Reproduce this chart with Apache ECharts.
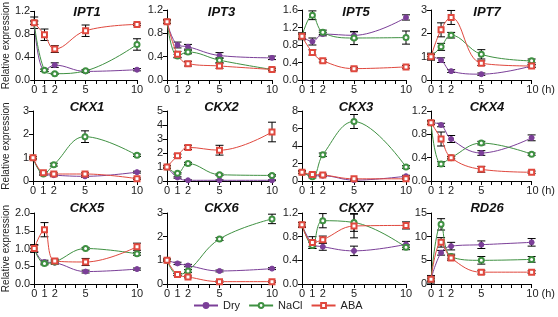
<!DOCTYPE html>
<html>
<head>
<meta charset="utf-8">
<script src="https://cdn.jsdelivr.net/npm/echarts@6/dist/echarts.min.js"></script>
<style>
  html, body { margin: 0; padding: 0; background: #fff; }
  #chart { width: 558px; height: 317px; }
</style>
</head>
<body>
<div id="chart"></div>
<script>
// sampling times (h) and the labelled ticks
const hours = [0, 1, 2, 5, 10];
const tickHours = [0, 1, 2, 5, 10];
const genes = ['IPT1', 'IPT3', 'IPT5', 'IPT7', 'CKX1', 'CKX2', 'CKX3', 'CKX4', 'CKX5', 'CKX6', 'CKX7', 'RD26'];
const yMax = [1.2, 1.2, 1.6, 3, 3, 5, 8, 1.2, 2.0, 3, 1.2, 15];
const yStep = [0.4, 0.4, 0.4, 1, 1, 1, 2, 0.4, 0.5, 1, 0.4, 5];
const yDecimals = [1, 1, 1, 0, 0, 0, 0, 1, 1, 0, 1, 0];

// mean relative expression per gene, at the times in `hours`
const dryMean = [
    [1.0, 0.17, 0.26, 0.15, 0.18],
    [1.0, 0.60, 0.57, 0.42, 0.38],
    [1.0, 0.88, 1.05, 1.02, 1.43],
    [1.0, 0.85, 0.38, 0.25, 0.60],
    [1.0, 0.30, 0.25, 0.20, 0.38],
    [1.0, 0.25, 0.05, 0.05, 0.05],
    [1.0, 0.60, 0.60, 0.10, 0.55],
    [1.0, 0.96, 0.72, 0.48, 0.74],
    [1.0, 0.62, 0.60, 0.35, 0.42],
    [1.0, 0.87, 0.78, 0.55, 0.65],
    [1.0, 0.68, 0.63, 0.56, 0.67],
    [1.0, 6.6, 8.0, 8.3, 8.8]
];
const naclMean = [
    [1.0, 0.17, 0.11, 0.16, 0.62],
    [1.0, 0.41, 0.48, 0.34, 0.18],
    [1.0, 1.48, 1.09, 0.96, 0.97],
    [1.0, 1.42, 1.92, 1.10, 0.82],
    [1.0, 0.30, 0.70, 1.90, 1.10],
    [1.0, 0.55, 1.25, 0.45, 0.40],
    [1.0, 0.50, 3.00, 6.80, 1.60],
    [1.0, 0.29, 0.40, 0.65, 0.46],
    [1.0, 0.58, 0.62, 1.00, 0.85],
    [1.0, 0.40, 0.55, 1.90, 2.75],
    [1.0, 0.65, 1.07, 1.04, 0.62],
    [1.0, 12.6, 5.8, 5.0, 5.2]
];
const abaMean = [
    [1.0, 0.79, 0.54, 0.86, 0.97],
    [1.0, 0.44, 0.28, 0.24, 0.18],
    [1.0, 0.63, 0.44, 0.26, 0.30],
    [1.0, 2.15, 2.68, 0.72, 0.60],
    [1.0, 0.35, 0.30, 0.30, 0.10],
    [1.0, 1.80, 2.40, 2.20, 3.50],
    [1.0, 0.75, 0.70, 0.25, 0.25],
    [1.0, 0.72, 0.40, 0.20, 0.15],
    [1.0, 1.53, 0.65, 0.62, 1.05],
    [1.0, 0.40, 0.30, 0.10, 0.10],
    [1.0, 0.70, 0.75, 0.98, 0.99],
    [1.0, 8.8, 5.5, 2.5, 2.5]
];

// error bar half-lengths
const dryErr = [
    [0.03, 0.02, 0.04, 0.02, 0.02],
    [0.03, 0.05, 0.04, 0.05, 0.03],
    [0.05, 0.08, 0.04, 0.08, 0.06],
    [0.10, 0.10, 0.06, 0.05, 0.05],
    [0.05, 0.05, 0.04, 0.04, 0.04],
    [0.10, 0.05, 0.03, 0.03, 0.03],
    [0.15, 0.10, 0.10, 0.05, 0.10],
    [0.03, 0.03, 0.06, 0.04, 0.05],
    [0.10, 0.05, 0.04, 0.04, 0.03],
    [0.05, 0.05, 0.05, 0.04, 0.04],
    [0.04, 0.05, 0.06, 0.08, 0.05],
    [0.20, 0.50, 0.80, 0.80, 0.80]
];
const naclErr = [
    [0.03, 0.02, 0.01, 0.02, 0.10],
    [0.03, 0.03, 0.03, 0.04, 0.02],
    [0.05, 0.10, 0.05, 0.15, 0.15],
    [0.10, 0.15, 0.12, 0.20, 0.08],
    [0.05, 0.05, 0.06, 0.25, 0.05],
    [0.10, 0.05, 0.08, 0.06, 0.05],
    [0.15, 0.15, 0.20, 0.80, 0.15],
    [0.03, 0.04, 0.02, 0.03, 0.02],
    [0.10, 0.04, 0.05, 0.03, 0.04],
    [0.05, 0.05, 0.06, 0.06, 0.20],
    [0.04, 0.05, 0.12, 0.15, 0.04],
    [0.50, 1.20, 0.50, 0.80, 0.60]
];
const abaErr = [
    [0.10, 0.10, 0.06, 0.10, 0.02],
    [0.03, 0.05, 0.04, 0.04, 0.02],
    [0.08, 0.06, 0.03, 0.03, 0.03],
    [0.15, 0.30, 0.30, 0.10, 0.06],
    [0.05, 0.06, 0.05, 0.05, 0.03],
    [0.10, 0.12, 0.15, 0.35, 0.70],
    [0.15, 0.15, 0.10, 0.05, 0.05],
    [0.03, 0.12, 0.02, 0.05, 0.02],
    [0.10, 0.20, 0.05, 0.10, 0.10],
    [0.05, 0.04, 0.04, 0.03, 0.03],
    [0.04, 0.10, 0.06, 0.20, 0.06],
    [0.80, 1.00, 0.50, 0.40, 0.30]
];

const treatments = [
    { name: 'Dry', mean: dryMean, err: dryErr, color: '#7b3f98', symbol: 'circle' },
    { name: 'NaCl', mean: naclMean, err: naclErr, color: '#3f9142', symbol: 'emptyCircle' },
    { name: 'ABA', mean: abaMean, err: abaErr, color: '#e0483e', symbol: 'emptyRect' }
];

// panel layout (px)
const colLeft = [33, 167, 302, 431];
const colWidth = [104, 105, 104, 108];
const rowTop = [10, 111, 213];
const rowHeight = [70, 70, 71];
const titleY = [12, 107, 208];
const FONT = 'Liberation Sans, Arial, sans-serif';

const grids = [], xAxes = [], yAxes = [], series = [], graphics = [];

genes.forEach((gene, i) => {
    const row = Math.floor(i / 4), col = i % 4;
    grids.push({ left: colLeft[col], top: rowTop[row], width: colWidth[col], height: rowHeight[row] });

    xAxes.push({
        gridIndex: i, type: 'value', min: 0, max: 10, interval: 1,
        axisLine: { lineStyle: { color: '#000', width: 1 } },
        axisTick: { length: 4, lineStyle: { color: '#000' } },
        splitLine: { show: false },
        axisLabel: {
            fontSize: 11, fontFamily: FONT, color: '#222', margin: 4,
            formatter: v => {
                if (!tickHours.includes(v)) return '';
                if (v === 10 && col === 3) return '{h|10 (h)}';
                return String(v);
            },
            rich: { h: { fontSize: 11, fontFamily: FONT, color: '#222', padding: [0, 0, 0, 18] } }
        }
    });

    yAxes.push({
        gridIndex: i, type: 'value', min: 0, max: yMax[i], interval: yStep[i],
        axisLine: { show: true, lineStyle: { color: '#000', width: 1 } },
        axisTick: { show: true, length: 4, lineStyle: { color: '#000' } },
        splitLine: { show: false },
        axisLabel: {
            fontSize: 11, fontFamily: FONT, color: '#222', margin: 4,
            formatter: v => v.toFixed(yDecimals[i])
        },
        name: col === 0 ? 'Relative expression' : '',
        nameLocation: 'middle', nameGap: 22,
        nameTextStyle: { fontSize: 10, fontFamily: FONT, color: '#222' }
    });

    const bars = [];
    treatments.forEach(t => {
        series.push({
            type: 'line', name: t.name, xAxisIndex: i, yAxisIndex: i,
            data: hours.map((h, k) => [h, t.mean[i][k]]),
            smooth: 0.4, symbol: t.symbol, symbolSize: 5, z: 3,
            lineStyle: { color: t.color, width: 1 },
            itemStyle: { color: t.color, borderColor: t.color, borderWidth: 1 }
        });
        hours.forEach((h, k) => {
            bars.push([h, t.mean[i][k] - t.err[i][k], t.mean[i][k] + t.err[i][k]]);
        });
    });

    series.push({
        type: 'custom', name: 'err', xAxisIndex: i, yAxisIndex: i, z: 2,
        data: bars,
        encode: { x: 0, y: [1, 2] },
        renderItem: (params, api) => {
            const lo = api.coord([api.value(0), api.value(1)]);
            const hi = api.coord([api.value(0), api.value(2)]);
            const cw = 4;
            const st = { stroke: '#000', lineWidth: 1 };
            return {
                type: 'group',
                children: [
                    { type: 'line', shape: { x1: lo[0], y1: lo[1], x2: hi[0], y2: hi[1] }, style: st },
                    { type: 'line', shape: { x1: lo[0] - cw, y1: lo[1], x2: lo[0] + cw, y2: lo[1] }, style: st },
                    { type: 'line', shape: { x1: hi[0] - cw, y1: hi[1], x2: hi[0] + cw, y2: hi[1] }, style: st }
                ]
            };
        }
    });

    graphics.push({
        type: 'text', x: colLeft[col] + colWidth[col] / 2 + 2, y: titleY[row],
        style: {
            text: gene, fontSize: 13, fontWeight: 'bold', fontStyle: 'italic',
            fontFamily: FONT, fill: '#111', align: 'center', verticalAlign: 'middle'
        }
    });
});

const chart = echarts.init(document.getElementById('chart'));
chart.setOption({
    animation: false,
    backgroundColor: '#fff',
    grid: grids,
    xAxis: xAxes,
    yAxis: yAxes,
    series: series,
    graphic: graphics,
    legend: {
        data: ['Dry', 'NaCl', 'ABA'],
        left: 188, top: 295,
        itemWidth: 24, itemHeight: 6, itemGap: 8,
        textStyle: { fontSize: 11, fontFamily: FONT, color: '#222' }
    }
});
</script>
</body>
</html>
